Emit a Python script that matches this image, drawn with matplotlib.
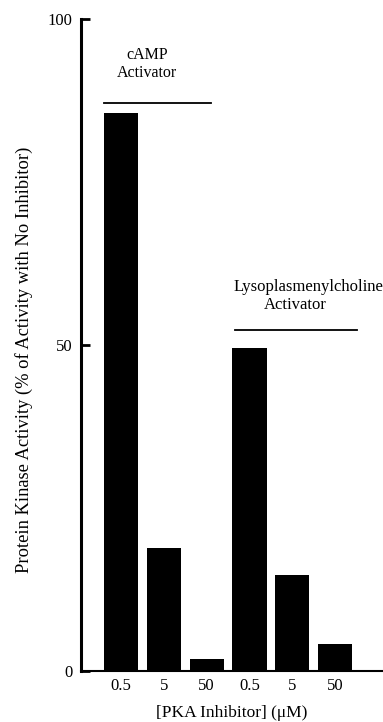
import matplotlib.pyplot as plt

plt.rcParams['font.family'] = ['Liberation Serif', 'DejaVu Serif']

# bar labels (inhibitor concentration, uM) and activity values
conc_labels = ['0.5', '5', '50', '0.5', '5', '50']
camp_activity = [85.6, 18.9, 1.8]
lyso_activity = [49.5, 14.7, 4.1]
activity = camp_activity + lyso_activity
positions = list(range(len(conc_labels)))

fig = plt.figure(figsize=(3.83, 7.22), dpi=100)
ax = fig.add_axes([0.2115, 0.0706, 0.7885, 0.9031])

ax.bar(positions, activity, width=0.8, color='black')

ax.set_xlim(-0.935, 6.12)
ax.set_ylim(0, 100)
ax.set_xticks(positions)
ax.set_xticklabels(conc_labels, fontsize=12)
ax.set_yticks([0, 50, 100])
ax.set_yticklabels(['0', '50', '100'], fontsize=12)
ax.tick_params(axis='x', length=0, pad=5)
ax.tick_params(axis='y', direction='in', length=6.5, width=2, pad=6)

for s in ['top', 'right']:
    ax.spines[s].set_visible(False)
ax.spines['left'].set_linewidth(2.2)
ax.spines['bottom'].set_linewidth(1.5)

ax.set_xlabel('[PKA Inhibitor] (\u03bcM)', fontsize=12.5, labelpad=8)
ax.set_ylabel('Protein Kinase Activity (% of Activity with No Inhibitor)', fontsize=13.3)
ax.yaxis.set_label_coords(-0.16, 0.477)

# group annotations
ax.text(0.61, 93.1, 'cAMP\nActivator', ha='center', va='center', fontsize=11.5, linespacing=1.15)
ax.plot([-0.4, 2.1], [87.1, 87.1], color='black', lw=1.3, clip_on=False)
ax.text(4.39, 58.9, 'Lysoplasmenylcholine', ha='center', va='center', fontsize=12)
ax.text(4.06, 56.1, 'Activator', ha='center', va='center', fontsize=12)
ax.plot([2.66, 5.51], [52.3, 52.3], color='black', lw=1.3, clip_on=False)

fig.savefig('out.png', dpi=100)
